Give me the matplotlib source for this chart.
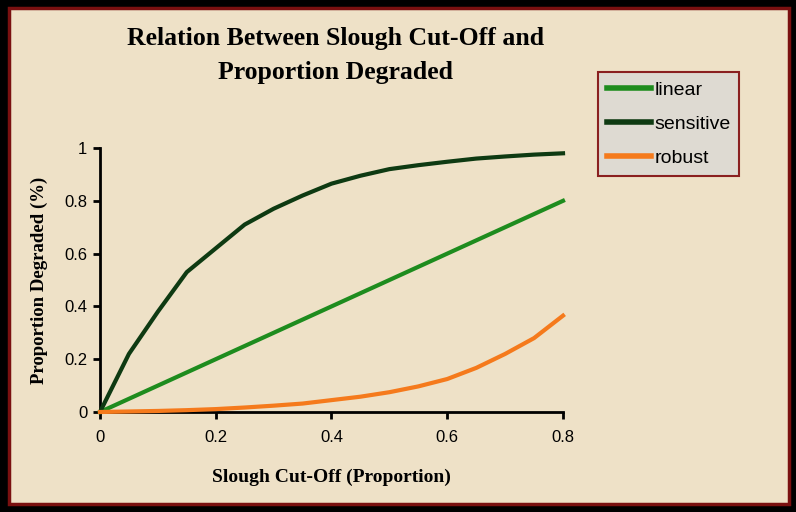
import matplotlib.pyplot as plt
from matplotlib.patches import Rectangle

# данные
x = [0, 0.05, 0.1, 0.15, 0.2, 0.25, 0.3, 0.35, 0.4, 0.45, 0.5, 0.55, 0.6, 0.65, 0.7, 0.75, 0.8]
linear = [0, 0.05, 0.1, 0.15, 0.2, 0.25, 0.3, 0.35, 0.4, 0.45, 0.5, 0.55, 0.6, 0.65, 0.7, 0.75, 0.8]
sensitive = [0, 0.22, 0.38, 0.53, 0.62, 0.71, 0.77, 0.82, 0.865, 0.895, 0.92, 0.935, 0.948, 0.96, 0.968, 0.975, 0.98]
robust = [0, 0.002, 0.004, 0.007, 0.011, 0.017, 0.024, 0.032, 0.045, 0.058, 0.075, 0.097, 0.125, 0.167, 0.22, 0.28, 0.365]

bg = '#EEE1C7'

fig = plt.figure(figsize=[7.96, 5.12], dpi=100, facecolor='black')
# рамка
fig.patches.append(Rectangle((0.011, 0.016), 0.98, 0.968, transform=fig.transFigure,
                             facecolor=bg, edgecolor='#7A1010', linewidth=2.5, zorder=-5))

ax = fig.add_axes([0.1256, 0.1953, 0.5817, 0.5156])
ax.set_facecolor('none')
ax.plot(x, linear, color='#1E8C1E', lw=3, label='linear', clip_on=False)
ax.plot(x, sensitive, color='#0E3A12', lw=3, label='sensitive', clip_on=False)
ax.plot(x, robust, color='#F57A1C', lw=3, label='robust', clip_on=False)

ax.set_xlim(0, 0.8)
ax.set_ylim(0, 1)
ax.set_xticks([0, 0.2, 0.4, 0.6, 0.8])
ax.set_xticklabels(['0', '0.2', '0.4', '0.6', '0.8'])
ax.set_yticks([0, 0.2, 0.4, 0.6, 0.8, 1])
ax.set_yticklabels(['0', '0.2', '0.4', '0.6', '0.8', '1'])
for s in ['top', 'right']:
    ax.spines[s].set_visible(False)
for s in ['left', 'bottom']:
    ax.spines[s].set_linewidth(2)
    ax.spines[s].set_zorder(1)
ax.tick_params(length=5, width=2, labelsize=12, colors='black')
for lab in ax.get_xticklabels() + ax.get_yticklabels():
    lab.set_family('Liberation Sans')
ax.tick_params(axis='x', pad=8)
ax.tick_params(axis='y', pad=4)

ax.set_xlabel('Slough Cut-Off (Proportion)', family='Liberation Serif', weight='bold',
              fontsize=14, labelpad=17)
ax.set_ylabel('Proportion Degraded (%)', family='Liberation Serif', weight='bold',
              fontsize=13.5, labelpad=12)

fig.text(0.421, 0.948, 'Relation Between Slough Cut-Off and\nProportion Degraded',
         ha='center', va='top', family='Liberation Serif', weight='bold', fontsize=18.5,
         linespacing=1.62)

leg = fig.legend(loc='upper left', bbox_to_anchor=(0.751, 0.859), frameon=True,
                 fancybox=False, prop={'family': 'Liberation Sans', 'size': 14},
                 handlelength=2.3, handletextpad=0.15, labelspacing=0.85,
                 borderpad=0.45, borderaxespad=0)
leg.get_frame().set_facecolor('#DEDAD2')
leg.get_frame().set_edgecolor('#8A2020')
leg.get_frame().set_linewidth(1.5)
leg.get_frame().set_alpha(1)
for line in leg.get_lines():
    line.set_linewidth(4)

plt.savefig('out.png', dpi=100, facecolor='black')
